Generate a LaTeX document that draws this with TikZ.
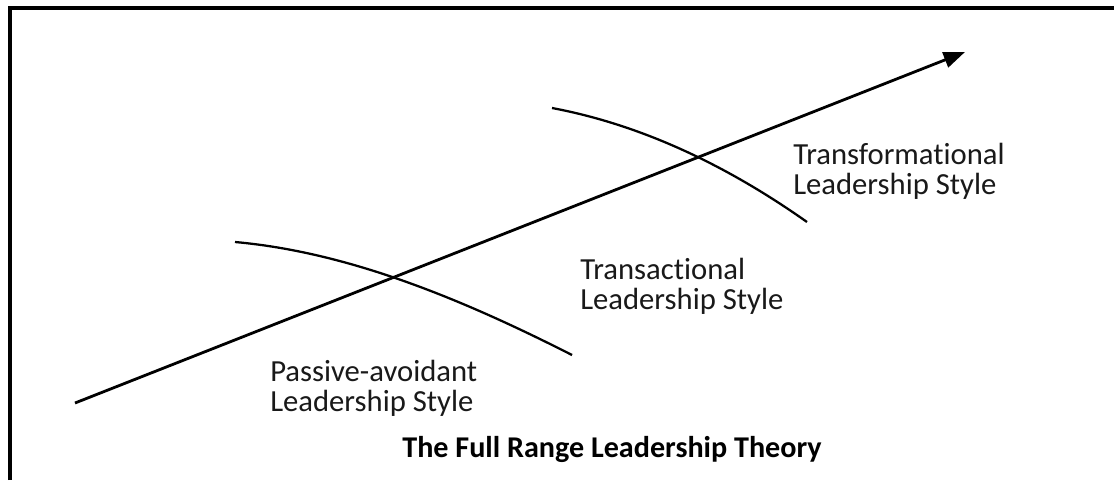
\documentclass[tikz,border=0pt]{standalone}
\usepackage{fontspec}
\setmainfont{Carlito}[Ligatures=NoCommon]
\usetikzlibrary{arrows.meta}
\begin{document}
\begin{tikzpicture}[x=0.75pt,y=-0.75pt,
  frameline/.style={line width=2.3pt},
  axisline/.style={line width=2.1pt,-{Triangle[length=16pt,width=12pt]}},
  bound/.style={line width=1.7pt},
  stylelabel/.style={anchor=north west,inner sep=0pt,align=left,
    font=\fontsize{23}{22.5}\selectfont,text=black!90},
  titlelabel/.style={anchor=base,inner sep=0pt,
    font=\bfseries\fontsize{22.6}{24}\selectfont,text=black}]
  % canvas
  \useasboundingbox (0,0) rectangle (1114,480);
  \fill[white] (0,0) rectangle (1114,480);
  % frame edges (left and top)
  \coordinate (fbl) at (10,480);
  \coordinate (ftl) at (10,8);
  \coordinate (ftr) at (1114,8);
  \draw[frameline] (fbl) -- (ftl) -- (ftr);
  % the continuum arrow
  \coordinate (start) at (75,403);
  \coordinate (tip) at (965,52);
  \draw[axisline] (start) -- (tip);
  % boundaries between the styles
  \coordinate (b1s) at (235,242);
  \coordinate (b1e) at (572,355);
  \coordinate (b2s) at (552,108);
  \coordinate (b2e) at (807,222);
  \draw[bound] (b1s) .. controls (347,252) and (460,298) .. (b1e);
  \draw[bound] (b2s) .. controls (637,124) and (722,162) .. (b2e);
  % style labels
  \node[stylelabel] (transf) at (793,143) {Transformational\\Leadership Style};
  \node[stylelabel] (transa) at (580,258) {Transactional\\Leadership Style};
  \node[stylelabel] (passive) at (270,360) {Passive-avoidant\\Leadership Style};
  % caption
  \node[titlelabel] (title) at (612,457) {The Full Range Leadership Theory};
\end{tikzpicture}
\end{document}
